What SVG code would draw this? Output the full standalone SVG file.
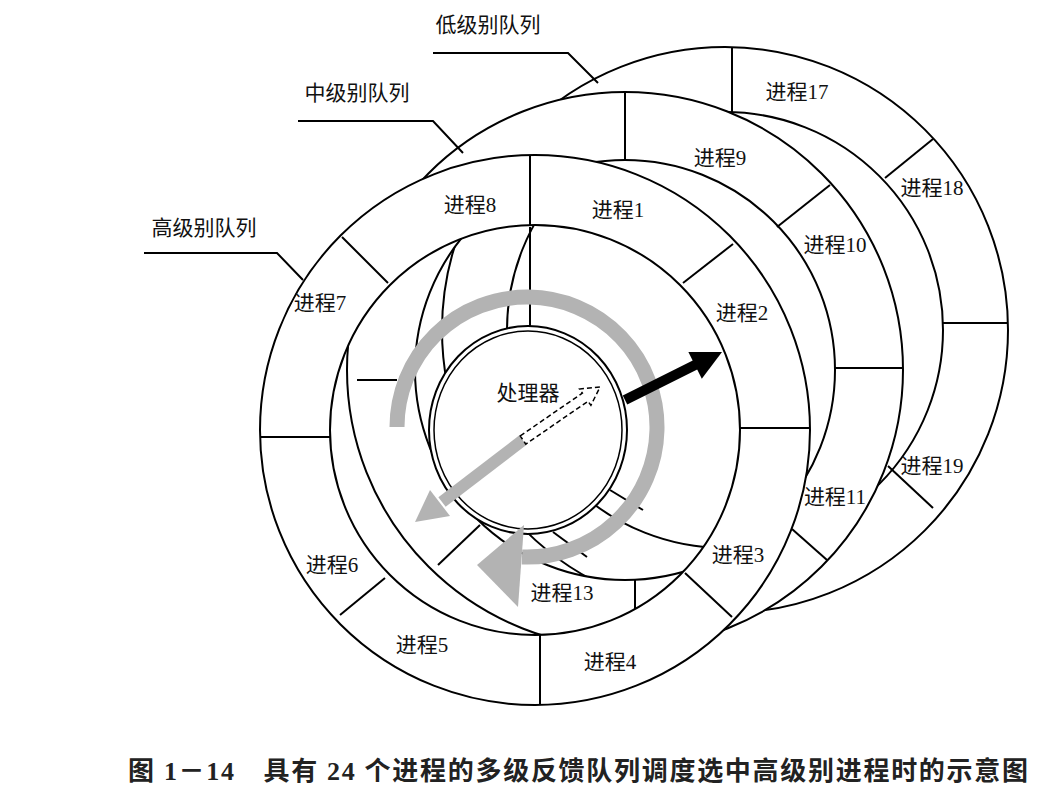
<svg xmlns="http://www.w3.org/2000/svg" width="1050" height="798" viewBox="0 0 1050 798">
<style>
.ln{stroke:#000;stroke-width:2;fill:none}
.ring{fill:#fff;stroke:#000;stroke-width:2;fill-rule:evenodd}
.t{font-family:"Liberation Serif","Noto Sans CJK SC",serif;font-size:21px;fill:#111;text-anchor:middle}
.cap{font-family:"Liberation Serif","Noto Sans CJK SC",serif;font-size:26px;font-weight:bold;fill:#222}
</style>
<rect width="1050" height="798" fill="#fff"/>
<g id="low-queue">
<path class="ring" d="M442 330a283 283 0 1 0 566 0a283 283 0 1 0 -566 0ZM507 330a218 218 0 1 0 436 0a218 218 0 1 0 -436 0Z"/>
<line class="ln" x1="732" y1="48" x2="732" y2="113"/>
<line class="ln" x1="885" y1="178" x2="933" y2="139"/>
<line class="ln" x1="943" y1="323" x2="1008" y2="323"/>
<line class="ln" x1="888" y1="466" x2="933" y2="508"/>
<text class="t" x="797" y="99">进程17</text>
<text class="t" x="932" y="195">进程18</text>
<text class="t" x="932" y="473">进程19</text>
</g>
<g id="middle-queue">
<path class="ring" d="M347 370a278 278 0 1 0 556 0a278 278 0 1 0 -556 0ZM415 370a210 210 0 1 0 420 0a210 210 0 1 0 -420 0Z"/>
<line class="ln" x1="625" y1="93" x2="625" y2="161"/>
<line class="ln" x1="777" y1="227" x2="830" y2="185"/>
<line class="ln" x1="835" y1="368" x2="903" y2="368"/>
<line class="ln" x1="792" y1="529" x2="827" y2="560"/>
<text class="t" x="720" y="165">进程9</text>
<text class="t" x="835" y="252">进程10</text>
<text class="t" x="835" y="504">进程11</text>
</g>
<g id="inner-details">
<line class="ln" x1="530" y1="227" x2="530" y2="327"/>
<line class="ln" x1="357" y1="380" x2="397" y2="380"/>
<line class="ln" x1="480" y1="525" x2="438" y2="565"/>
<line class="ln" x1="553" y1="532" x2="587" y2="557"/>
<line class="ln" x1="610" y1="490" x2="643" y2="510"/>
<line class="ln" x1="635" y1="580" x2="635" y2="613"/>
<text class="t" x="562" y="600">进程13</text>
</g>
<g id="high-queue">
<path class="ring" d="M260 430a275 275 0 1 0 550 0a275 275 0 1 0 -550 0ZM330 430a205 205 0 1 0 410 0a205 205 0 1 0 -410 0Z"/>
<line class="ln" x1="530" y1="156" x2="530" y2="225"/>
<line class="ln" x1="683" y1="283" x2="733" y2="244"/>
<line class="ln" x1="740" y1="428" x2="809" y2="428"/>
<line class="ln" x1="685" y1="573" x2="732" y2="617"/>
<line class="ln" x1="540" y1="635" x2="540" y2="705"/>
<line class="ln" x1="340" y1="615" x2="385" y2="578"/>
<line class="ln" x1="261" y1="437" x2="330" y2="437"/>
<line class="ln" x1="342" y1="237" x2="388" y2="283"/>
<text class="t" x="470" y="212">进程8</text>
<text class="t" x="618" y="217">进程1</text>
<text class="t" x="742" y="320">进程2</text>
<text class="t" x="738" y="562">进程3</text>
<text class="t" x="610" y="669">进程4</text>
<text class="t" x="422" y="652">进程5</text>
<text class="t" x="332" y="572">进程6</text>
<text class="t" x="320" y="310">进程7</text>
</g>
<g id="processor">
<ellipse cx="528" cy="430" rx="99" ry="104" fill="#fff" stroke="#000" stroke-width="2"/>
<ellipse cx="528" cy="430" rx="94" ry="99" fill="none" stroke="#000" stroke-width="1.5"/>
<text class="t" x="528" y="400">处理器</text>
</g>
<g id="connectors">
<path d="M397 427A130 130 0 1 1 522 557" fill="none" stroke="#b3b3b3" stroke-width="15"/>
<polygon points="477,565 524,525 518,607" fill="#b3b3b3"/>
<line x1="523" y1="440" x2="442" y2="502" stroke="#b3b3b3" stroke-width="12"/>
<polygon points="415,522 450,516 430,490" fill="#b3b3b3"/>
<polygon points="520.2,435.9 582.4,393.1 579.5,389 600,387 590.9,405.4 588,401.3 525.8,444.1" fill="#fff" stroke="#000" stroke-width="1.5" stroke-dasharray="5,3"/>
<line x1="625" y1="400" x2="697" y2="364" stroke="#000" stroke-width="10"/>
<polygon points="722,352 701.8,378.7 688.4,351.9" fill="#000"/>
<polyline class="ln" points="433,53 568,53 598,83"/>
<polyline class="ln" points="298,121 433,121 463,153"/>
<polyline class="ln" points="144,253 277,253 303,280"/>
</g>
<text class="t" x="488" y="32">低级别队列</text>
<text class="t" x="357" y="100">中级别队列</text>
<text class="t" x="204" y="235">高级别队列</text>
<text class="cap" x="128" y="780" textLength="900" lengthAdjust="spacing">图 1－14　具有 24 个进程的多级反馈队列调度选中高级别进程时的示意图</text>
</svg>
